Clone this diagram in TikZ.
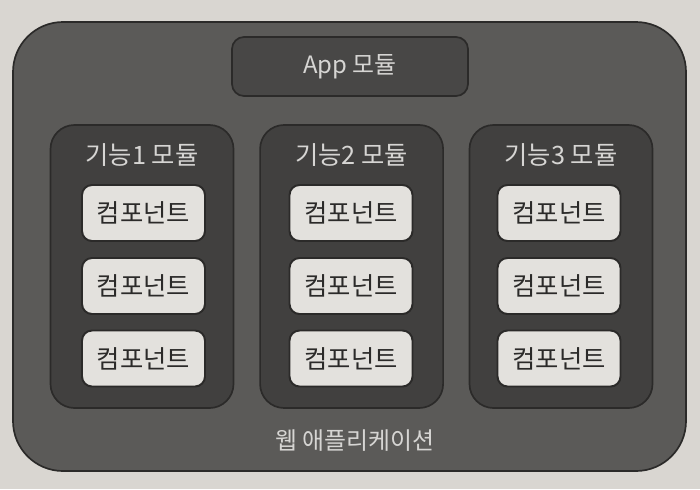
\documentclass[tikz,border=0pt]{standalone}
\usepackage{fontspec}
\setmainfont{Noto Sans CJK KR}
\usepackage{xcolor}
\usepackage{tikz}
\usetikzlibrary{positioning}

\definecolor{paper}{HTML}{D9D6D1}
\definecolor{webgray}{HTML}{5B5A58}
\definecolor{modgray}{HTML}{41403F}
\definecolor{appgray}{HTML}{484746}
\definecolor{compgray}{HTML}{E3E1DD}
\definecolor{edgegray}{HTML}{2B2A29}
\definecolor{labelgray}{HTML}{D6D5D3}

\tikzset{
  webbox/.style={draw=edgegray, line width=1.2pt, fill=webgray, rounded corners=1.25cm, inner sep=0pt},
  appbox/.style={draw=edgegray, line width=1.2pt, fill=appgray, rounded corners=0.3cm, inner sep=0pt,
    minimum width=5.9cm, minimum height=1.475cm, text=labelgray, font=\fontsize{17}{20}\selectfont},
  modbox/.style={draw=edgegray, line width=1.2pt, fill=modgray, rounded corners=0.6cm, inner sep=0pt,
    minimum width=4.575cm, minimum height=7.075cm},
  compbox/.style={draw=edgegray, line width=1.4pt, fill=compgray, rounded corners=0.25cm, inner sep=0pt,
    minimum width=3.075cm, minimum height=1.4cm, text=edgegray, font=\fontsize{18}{21}\selectfont},
  modlabel/.style={text=labelgray, font=\fontsize{18}{21}\selectfont},
  weblabel/.style={text=labelgray, font=\fontsize{17}{20}\selectfont}
}

\begin{document}
\begin{tikzpicture}
\fill[paper] (0,0) rectangle (17.5,12.225);
\useasboundingbox (0,0) rectangle (17.5,12.225);

% web application
\node[webbox, minimum width=16.825cm, minimum height=11.225cm] (web) at (8.7375,6.0625) {};
\node[weblabel] (webtext) at (8.875,1.2) {웹 애플리케이션};

\node[appbox] (app) at (8.75,10.5625) {App 모듈};

% feature modules
\node[modbox] (mod1) at (3.55,5.5625) {};
\node[modbox] (mod2) at (8.79,5.5625) {};
\node[modbox] (mod3) at (14.025,5.5625) {};

\node[modlabel] (mod1text) at (3.55,8.35) {기능1 모듈};
\node[modlabel] (mod2text) at (8.79,8.35) {기능2 모듈};
\node[modlabel] (mod3text) at (14.025,8.35) {기능3 모듈};

% components
\node[compbox] (comp11) at (3.5875,6.9) {컴포넌트};
\node[compbox] (comp12) at (3.5875,5.075) {컴포넌트};
\node[compbox] (comp13) at (3.5875,3.2625) {컴포넌트};

\node[compbox] (comp21) at (8.775,6.9) {컴포넌트};
\node[compbox] (comp22) at (8.775,5.075) {컴포넌트};
\node[compbox] (comp23) at (8.775,3.2625) {컴포넌트};

\node[compbox] (comp31) at (13.975,6.9) {컴포넌트};
\node[compbox] (comp32) at (13.975,5.075) {컴포넌트};
\node[compbox] (comp33) at (13.975,3.2625) {컴포넌트};

\end{tikzpicture}
\end{document}
